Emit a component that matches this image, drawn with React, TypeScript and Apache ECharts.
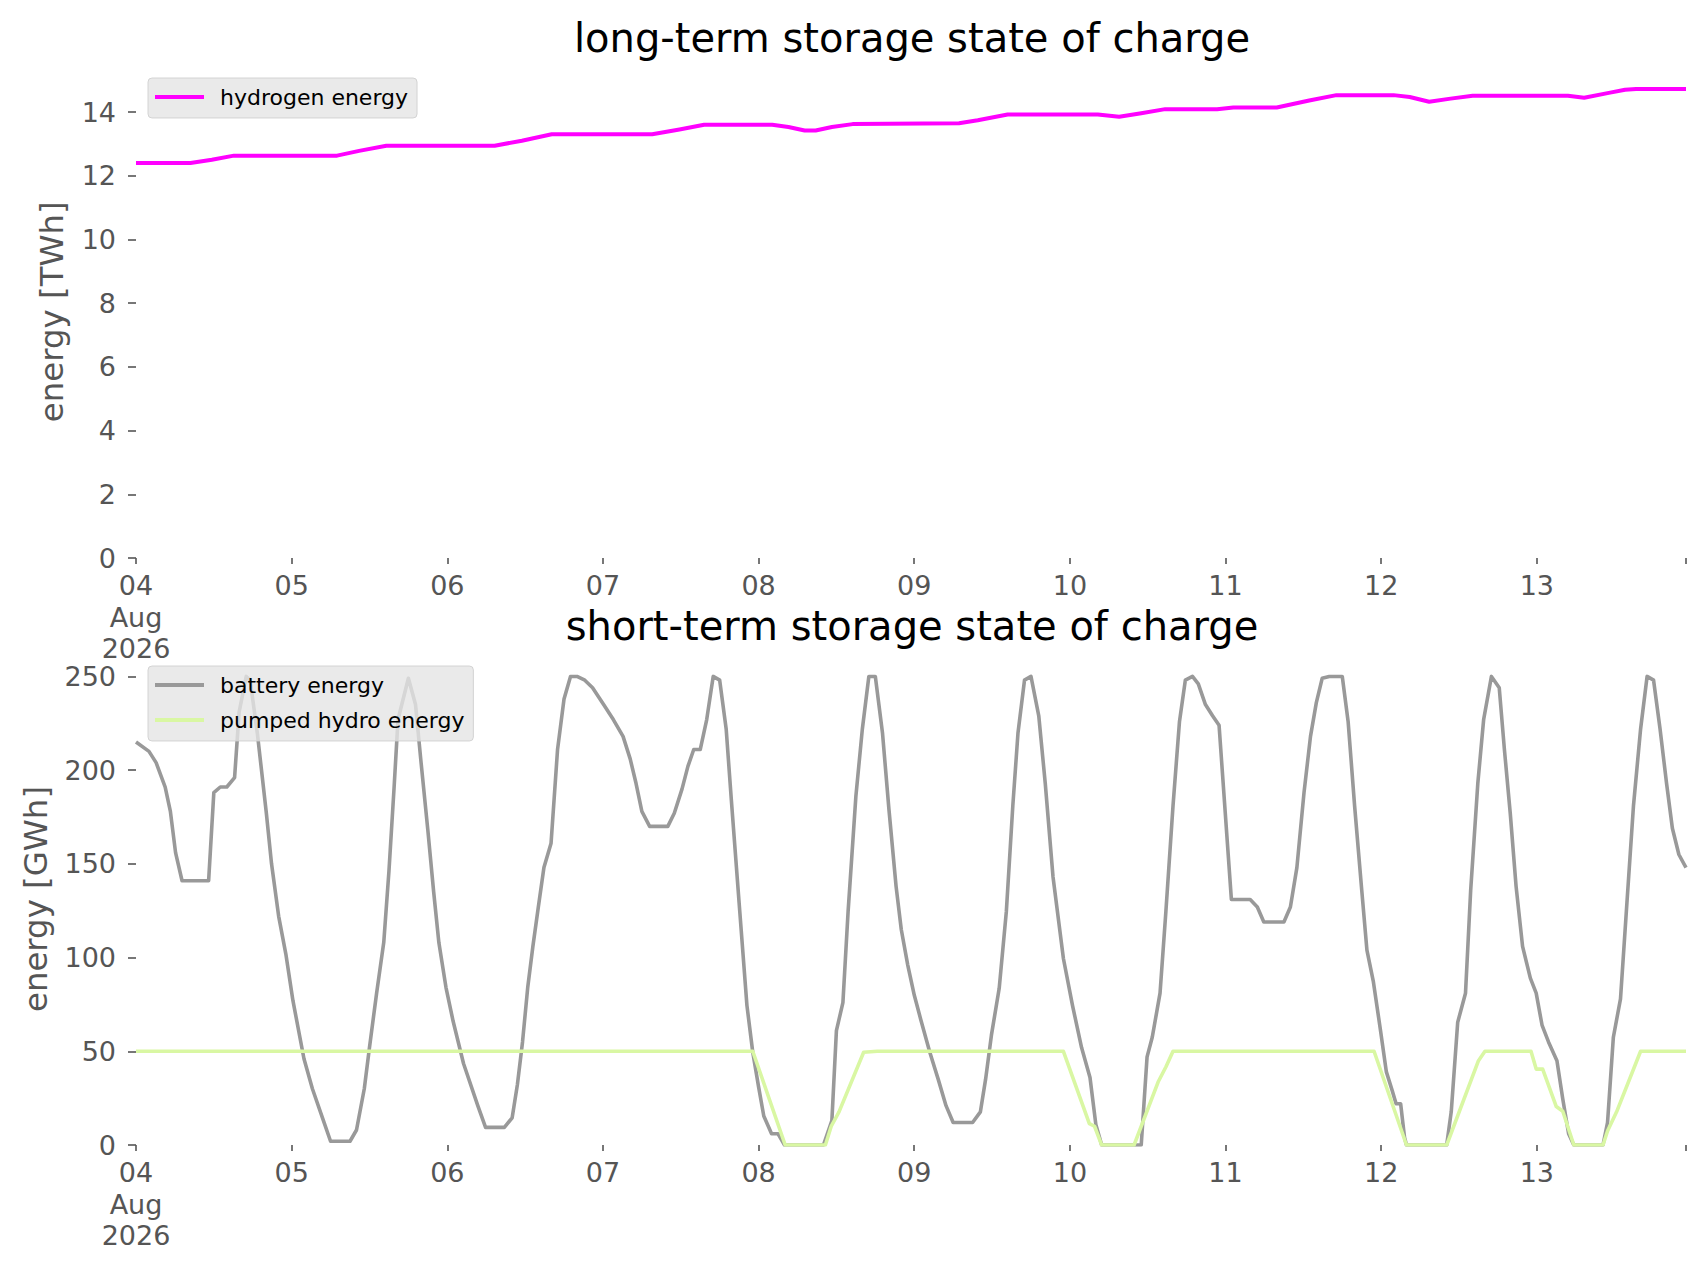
import React, { useEffect, useRef } from "react";
import * as echarts from "echarts";

// ---- time frame: hours after 04 Aug 2026 00:00 ----
const HOURS_PER_DAY = 24;
const LAST_HOUR = 239;

// ---- tick labels ----
const dayTickLabels = ["04\nAug\n2026", "05", "06", "07", "08", "09", "10", "11", "12", "13"];
const hydrogenTicks = [0, 2, 4, 6, 8, 10, 12, 14];
const shortTermTicks = [0, 50, 100, 150, 200, 250];

// ---- series: [hour offset, value] ----
const hydrogenTWh = [
  [0, 12.4], [8.4, 12.4], [11.7, 12.5], [15.1, 12.63], [31, 12.63], [34.4, 12.78], [38.6, 12.94],
  [55.3, 12.94], [59.5, 13.1], [64.1, 13.3], [79.6, 13.3], [83.8, 13.45], [87.6, 13.6], [98.1, 13.6],
  [100.6, 13.53], [103.1, 13.42], [104.8, 13.42], [107.3, 13.53], [110.5, 13.62], [126.9, 13.65],
  [129.8, 13.74], [134.4, 13.92], [148.3, 13.92], [151.6, 13.85], [155, 13.96], [158.7, 14.09],
  [166.7, 14.09], [169.2, 14.14], [175.9, 14.14], [180.9, 14.36], [185.1, 14.53], [193.9, 14.53],
  [196.4, 14.47], [199.4, 14.32], [202.7, 14.42], [206.1, 14.51], [220.8, 14.51], [223.3, 14.45],
  [227.1, 14.6], [229.6, 14.7], [231.3, 14.72], [239, 14.72],
];

const batteryGWh = [
  [0, 215], [2, 210], [3.1, 204], [4.5, 191], [5.3, 178], [6.1, 156], [7.1, 141], [11.2, 141],
  [12, 188], [13, 191], [14, 191], [15.2, 196], [15.9, 231], [17, 250], [17.6, 248], [18.7, 220],
  [20.1, 177], [20.9, 150], [22, 122], [23.1, 102], [24.2, 77], [25.9, 46], [27.2, 30], [28.9, 13],
  [30, 2], [33, 2], [34, 8], [35.2, 30], [36, 52], [37.1, 81], [38.2, 108], [39, 146], [39.8, 191],
  [40.4, 227], [42, 249], [43.1, 235], [43.9, 206], [45, 168], [45.9, 135], [46.7, 108], [47.8, 84],
  [48.9, 66], [50.5, 43.5], [52.7, 21], [53.9, 9.4], [56.8, 9.4], [58, 14.5], [58.8, 32], [59.6, 55],
  [60.4, 84], [61.2, 106], [62, 126], [62.9, 148], [64, 161], [65, 211], [66, 238], [67, 250],
  [68, 250], [69.2, 248], [70.4, 244], [72.1, 235], [73.6, 227], [75.1, 218], [76.2, 206], [77.1, 193],
  [78, 178], [79.2, 170], [82, 170], [83, 177], [84.2, 190], [85.1, 202], [86, 211], [87, 211],
  [88, 227], [89, 250], [90, 248], [91, 222], [91.8, 184], [93, 129], [94.2, 74.5], [95.1, 49.5],
  [96, 31], [96.8, 15.5], [98, 6], [99, 6], [100, 0], [106, 0], [107.3, 13], [108, 61], [109, 76],
  [109.8, 124.5], [111, 186], [112, 222], [113, 250], [114, 250], [115.1, 220], [116.1, 179],
  [117.2, 138], [118, 115], [119, 96], [120, 80], [121, 67], [122.4, 49.5], [123.7, 35], [124.9, 21],
  [126, 12], [129, 12], [130.2, 17.7], [131, 35], [131.9, 58.6], [133.1, 83.6], [134.2, 124.5],
  [135.2, 181], [136, 220], [137, 248], [138, 250], [139.2, 229], [140.2, 193], [141.4, 143],
  [143, 99.5], [144.4, 74.5], [145.8, 52], [147.1, 36], [148, 11], [148.9, 0], [155, 0], [155.9, 47],
  [156.7, 57.5], [157.9, 81], [158.8, 124.5], [159.9, 181], [160.9, 226], [161.8, 248], [162.9, 250],
  [163.8, 246], [164.9, 235], [166, 229], [167, 224], [168.9, 131], [171.8, 131], [172.9, 127],
  [173.9, 119], [177, 119], [178, 127], [179, 148], [180.1, 188], [181.1, 218], [182, 236],
  [182.9, 249], [184, 250], [186, 250], [186.9, 226], [187.9, 181], [189, 136], [189.8, 104],
  [190.8, 87], [191.9, 61], [192.8, 39], [193.7, 29], [194.3, 22], [195, 22], [195.6, 4], [195.9, 0],
  [202.1, 0], [202.8, 17.7], [203.8, 65.5], [205, 81], [205.8, 136], [206.9, 193], [207.8, 227],
  [209, 250], [210.2, 244], [211, 211], [211.9, 177], [212.8, 138], [213.8, 106], [215, 89],
  [215.9, 81], [216.8, 64], [217.8, 55], [219.1, 45], [220, 24.5], [220.9, 6], [221.7, 0], [226.2, 0],
  [226.9, 12], [227.8, 57.5], [228.9, 78], [229.8, 124.5], [230.9, 181], [232, 222], [233, 250],
  [234, 248], [235, 222], [236, 193], [236.9, 169], [237.9, 155], [239, 148],
];

const pumpedHydroGWh = [
  [0, 50], [95.1, 50], [100.1, 0], [106.3, 0], [107.2, 10], [108.4, 17.7], [112.2, 49.5], [114.3, 50],
  [143, 50], [147, 11.4], [147.8, 10], [148.9, 0], [153.9, 0], [157.6, 33.6], [158.8, 41.6],
  [159.9, 50], [190.9, 50], [195.9, 0], [202.1, 0], [207, 45], [208, 50], [215.1, 50], [215.9, 40.5],
  [216.9, 40.5], [219, 20.5], [220, 18], [221.7, 0], [226.2, 0], [226.9, 7.5], [228.3, 17.7],
  [232, 50], [239, 50],
];

const FONT = "DejaVu Sans";
const GREY = "#555555";

const dayValues = dayTickLabels.map((_, i) => i * HOURS_PER_DAY);

function xAxis(gridIndex: number) {
  return {
    type: "value",
    gridIndex,
    min: 0,
    max: LAST_HOUR,
    axisLine: { show: false },
    splitLine: { show: false },
    axisTick: {
      show: true,
      length: 6,
      customValues: [...dayValues, LAST_HOUR],
      lineStyle: { color: GREY, width: 1.6 },
    },
    axisLabel: {
      customValues: dayValues,
      formatter: (v: number) => dayTickLabels[Math.round(v / HOURS_PER_DAY)] ?? "",
      fontSize: 27,
      lineHeight: 31.5,
      color: GREY,
      fontFamily: FONT,
      margin: 12,
      hideOverlap: false,
    },
  };
}

function yAxis(gridIndex: number, max: number, ticks: number[], name: string, nameGap: number) {
  return {
    type: "value",
    gridIndex,
    min: 0,
    max,
    name,
    nameLocation: "middle",
    nameGap,
    nameMoveOverlap: false,
    nameTextStyle: { fontSize: 32.4, color: GREY, fontFamily: FONT },
    axisLine: { show: false },
    splitLine: { show: false },
    axisTick: { show: true, length: 8, customValues: ticks, lineStyle: { color: GREY, width: 1.6 } },
    axisLabel: { customValues: ticks, fontSize: 27, color: GREY, fontFamily: FONT, margin: 20 },
  };
}

function legend(names: string[], top: number) {
  return {
    data: names,
    orient: "vertical",
    left: 148,
    top,
    icon: "rect",
    itemWidth: 49,
    itemHeight: 4,
    itemGap: 13,
    padding: [8, 9, 10, 7],
    backgroundColor: "rgba(229,229,229,0.8)",
    borderColor: "rgba(204,204,204,0.8)",
    borderWidth: 1,
    borderRadius: 4,
    textStyle: { fontSize: 22, lineHeight: 22, color: "#000", fontFamily: FONT, padding: [0, 0, 0, 11] },
  };
}

export default function App() {
  const ref = useRef<HTMLDivElement>(null);

  useEffect(() => {
    document.body.style.margin = "0";
    if (!ref.current) return;
    const chart = echarts.init(ref.current, null, { renderer: "svg" });
    chart.setOption({
      animation: false,
      backgroundColor: "#ffffff",
      title: [
        {
          text: "long-term storage state of charge",
          left: 912,
          top: 18,
          padding: 0,
          textAlign: "center",
          textStyle: { fontSize: 40, fontWeight: "normal", color: "#000", fontFamily: FONT },
        },
        {
          text: "short-term storage state of charge",
          left: 912,
          top: 606,
          padding: 0,
          textAlign: "center",
          textStyle: { fontSize: 40, fontWeight: "normal", color: "#000", fontFamily: FONT },
        },
      ],
      grid: [
        { left: 136, top: 65.5, width: 1550, height: 492.5, containLabel: false, outerBoundsMode: "none" },
        { left: 136, top: 653, width: 1550, height: 492, containLabel: false, outerBoundsMode: "none" },
      ],
      legend: [legend(["hydrogen energy"], 78), legend(["battery energy", "pumped hydro energy"], 666)],
      xAxis: [xAxis(0), xAxis(1)],
      yAxis: [
        yAxis(0, 15.46, hydrogenTicks, "energy [TWh]", 68),
        yAxis(1, 262.5, shortTermTicks, "energy [GWh]", 84),
      ],
      series: [
        {
          name: "hydrogen energy",
          type: "line",
          xAxisIndex: 0,
          yAxisIndex: 0,
          data: hydrogenTWh,
          showSymbol: false,
          symbol: "none",
          color: "#ff00ff",
          lineStyle: { color: "#ff00ff", width: 4, join: "round" },
        },
        {
          name: "battery energy",
          type: "line",
          xAxisIndex: 1,
          yAxisIndex: 1,
          data: batteryGWh,
          showSymbol: false,
          symbol: "none",
          color: "#999999",
          lineStyle: { color: "#999999", width: 3.6, join: "round" },
        },
        {
          name: "pumped hydro energy",
          type: "line",
          xAxisIndex: 1,
          yAxisIndex: 1,
          data: pumpedHydroGWh,
          showSymbol: false,
          symbol: "none",
          color: "#d9f7a3",
          lineStyle: { color: "#d9f7a3", width: 3.6, join: "round" },
        },
      ],
    });
    return () => chart.dispose();
  }, []);

  return <div ref={ref} style={{ width: 1706, height: 1277 }} />;
}
